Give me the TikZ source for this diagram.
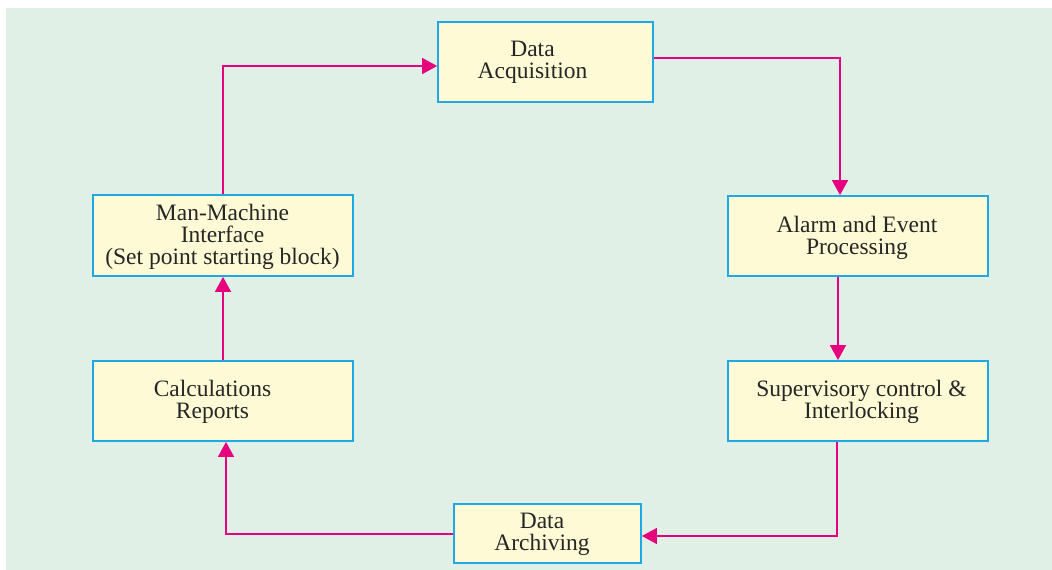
\documentclass[tikz,border=0pt]{standalone}
\usepackage{fontspec}
\setmainfont{Liberation Serif}
\usetikzlibrary{arrows.meta}
\definecolor{bgc}{HTML}{E1F0E6}
\definecolor{boxfill}{HTML}{FFFAD6}
\definecolor{boxline}{HTML}{1EA8E4}
\definecolor{arr}{HTML}{E6007E}
\tikzset{
  blk/.style={draw=boxline, fill=boxfill, line width=1.8pt, inner sep=0pt},
  txt/.style={inner sep=0pt, align=center, font=\fontsize{23.5}{21.7}\selectfont, text=black!85},
  flow/.style={draw=arr, line width=1.6pt, -{Triangle[length=15pt,width=16pt]}}
}
\begin{document}
\begin{tikzpicture}[x=1pt,y=-1pt]
\useasboundingbox (0,0) rectangle (1052,570);
\fill[bgc] (6,8) rectangle (1052,570);
\node[blk, minimum width=215pt, minimum height=80pt] (acq) at (545.5,62) {};
\node[blk, minimum width=260pt, minimum height=80pt] (alarm) at (858,236) {};
\node[blk, minimum width=260pt, minimum height=80pt] (sup) at (858,401) {};
\node[blk, minimum width=187pt, minimum height=59pt] (arch) at (547.5,533.5) {};
\node[blk, minimum width=260pt, minimum height=80pt] (calc) at (223,401) {};
\node[blk, minimum width=260pt, minimum height=81pt] (mmi) at (223,235.5) {};
\node[txt] (acqt) at (532.5,62) {Data\\Acquisition};
\node[txt] (alarmt) at (857,238) {Alarm and Event\\Processing};
\node[txt] (supt) at (861.5,402) {Supervisory control \&\\Interlocking};
\node[txt] (archt) at (542,534) {Data\\Archiving};
\node[txt] (calct) at (212.5,402) {Calculations\\Reports};
\node[txt] (mmit) at (222.5,237) {Man-Machine\\Interface\\(Set point starting block)};
\coordinate (c1) at (223,66);
\coordinate (c2) at (840,58);
\coordinate (c3) at (837,536);
\coordinate (c4) at (226,534);
\draw[flow] (mmi.north) -- (c1) -- (acq.west |- c1);
\draw[flow] (acq.east |- c2) -- (c2) -- (alarm.north -| c2);
\draw[flow] (alarm.south -| 838,0) -- (sup.north -| 838,0);
\draw[flow] (sup.south -| c3) -- (c3) -- (arch.east |- c3);
\draw[flow] (arch.west |- c4) -- (c4) -- (calc.south -| c4);
\draw[flow] (calc.north) -- (mmi.south);
\end{tikzpicture}
\end{document}
